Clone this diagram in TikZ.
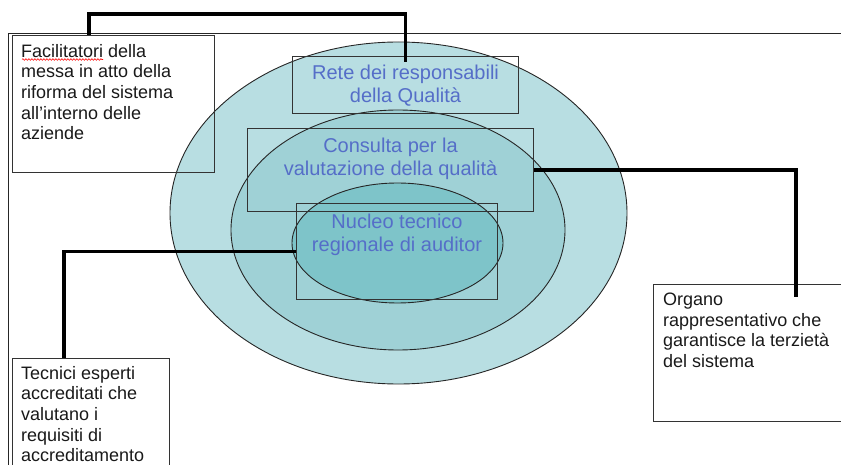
\documentclass[tikz,border=0pt]{standalone}
\usepackage{fontspec}
\setmainfont{Liberation Sans}
\usepackage{xcolor}
\usepackage{tikz}
\usetikzlibrary{positioning,decorations.pathmorphing}
\definecolor{anelloEst}{HTML}{B8DEE2}
\definecolor{anelloMed}{HTML}{9FD1D6}
\definecolor{anelloInt}{HTML}{7EC4C9}
\definecolor{testoBlu}{RGB}{85,110,200}

\begin{document}
\begin{tikzpicture}[
				x = 1pt, y = -1pt,
				ring/.style = {draw=black!85, line width=.9pt},
				box/.style = {draw=black!80, line width=1.1pt, anchor=north west, inner sep=0pt},
				txt/.style = {font=\fontsize{18}{20.6}\selectfont, align=left, inner sep=0pt, text=black!90},
				qtxt/.style = {font=\fontsize{20}{23}\selectfont, align=center, inner sep=0pt, text=testoBlu},
				conn/.style = {line width=3.6pt, black}
			]
			\useasboundingbox (0,0) rectangle (841,465);

			\draw[line width=1pt, black!85] (8,470) |- (845,34);

			\draw[ring, fill=anelloEst] (398.5,213) ellipse [x radius=228.5, y radius=171];
			\draw[ring, fill=anelloMed] (398,230) ellipse [x radius=167, y radius=120];
			\draw[ring, fill=anelloInt] (397.5,243) ellipse [x radius=105.5, y radius=60];

			\node[box, minimum width=226pt, minimum height=57pt] (rete) at (292,56) {};
			\node[box, minimum width=286pt, minimum height=83pt] (consulta) at (247,128) {};
			\node[box, minimum width=201pt, minimum height=96pt] (nucleo) at (296,203) {};
			\node[box, minimum width=202pt, minimum height=137pt] (facil) at (12,35) {};
			\node[box, minimum width=157pt, minimum height=115pt] (tecnici) at (12,358) {};
			\node[box, minimum width=200pt, minimum height=137pt] (organo) at (653,284) {};

			\node[qtxt, below=8.5pt of rete.north] (reteT) {Rete dei responsabili\\della Qualità};
			\node[qtxt, below=9.5pt of consulta.north] (consultaT) {Consulta per la\\valutazione della qualità};
			\node[qtxt, below=11pt of nucleo.north] (nucleoT) {Nucleo tecnico\\regionale di auditor};

			\node[txt, below right=9pt and 9pt of facil.north west] (facilT) {Facilitatori della\\messa in atto della\\riforma del sistema\\all'interno delle\\aziende};
			\node[txt, below right=8pt and 9pt of tecnici.north west] (tecniciT) {Tecnici esperti\\accreditati che\\valutano i\\requisiti di\\accreditamento};
			\node[txt, below right=8.7pt and 10pt of organo.north west] (organoT) {Organo\\rappresentativo che\\garantisce la terzietà\\del sistema};
			\draw[red, line width=.6pt, decorate, decoration={snake, amplitude=.8pt, segment length=3pt}] (22,59.5) -- (103,59.5);

			\coordinate (facilTop) at ([xshift=77pt]facil.north west);
			\coordinate (reteEnd) at ([yshift=-6pt]rete.north);
			\coordinate (organoEnd) at ([xshift=143pt,yshift=-13pt]organo.north west);
			\coordinate (tecniciEnd) at ([xshift=52pt]tecnici.north west);

			\draw[conn] (facilTop) -- ++(0,-21) -| (reteEnd);
			\draw[conn] (consulta.east) -| (organoEnd);
			\draw[conn] (nucleo.west) -| (tecniciEnd);

			\end{tikzpicture}
\end{document}
